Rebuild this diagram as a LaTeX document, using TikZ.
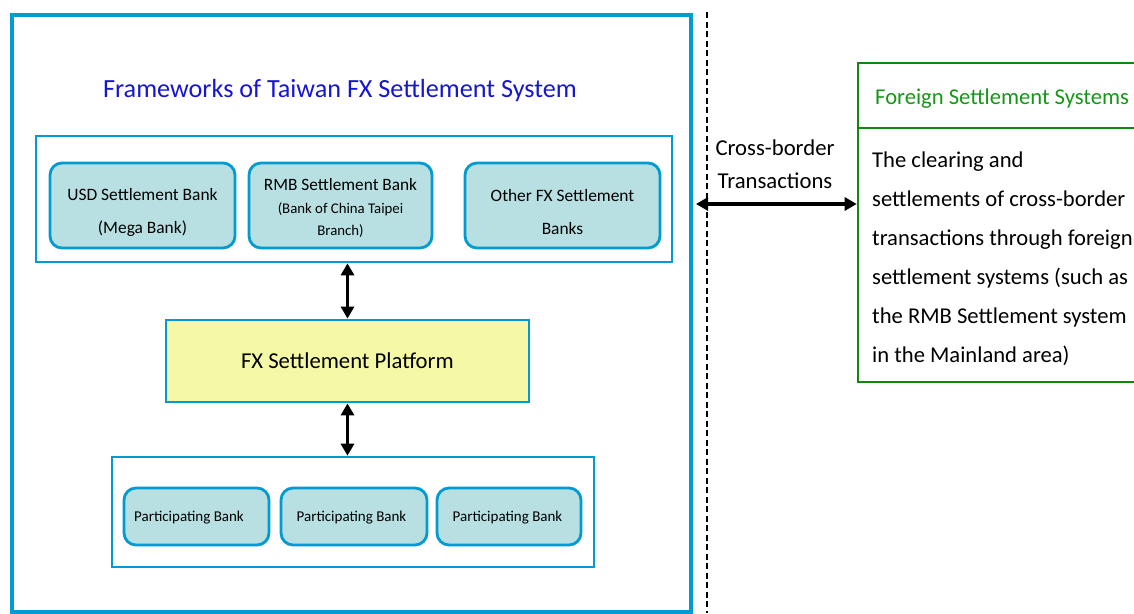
\documentclass[tikz,border=0pt]{standalone}
\usepackage{fontspec}
\setmainfont{Carlito}
\usetikzlibrary{arrows.meta}
\definecolor{fxblue}{RGB}{0,155,208}
\definecolor{titleblue}{RGB}{22,22,210}
\definecolor{bankfill}{RGB}{184,224,226}
\definecolor{platfill}{RGB}{245,249,166}
\definecolor{fssgreen}{RGB}{16,135,16}
\definecolor{fsstext}{RGB}{22,150,22}
\newcommand{\fs}[2]{\fontsize{#1}{#2}\selectfont}
\tikzset{
  frame/.style={draw=fxblue, line width=3.2pt, rectangle, inner sep=0pt},
  groupbox/.style={draw=fxblue, line width=2.6pt, rectangle, inner sep=0pt, fill=white},
  bankbox/.style={draw=fxblue, line width=2.8pt, rectangle, rounded corners=12pt, fill=bankfill, inner sep=0pt, align=center},
  banktext/.style={inner sep=0pt, align=center},
  platbox/.style={draw=fxblue, line width=2.8pt, rectangle, fill=platfill, inner sep=0pt, align=center},
  dbl/.style={line width=3.3pt, {Triangle[width=13pt,length=12pt]}-{Triangle[width=13pt,length=12pt]}},
}
\begin{document}
\begin{tikzpicture}[x=1pt,y=-1pt]
\useasboundingbox (0,0) rectangle (1134,613);
\clip (0,0) rectangle (1134,613);
% outer frame
\node[frame, minimum width=679pt, minimum height=597pt] (outer) at (351.5,313.5) {};
\node[text=titleblue, font=\fs{26.2}{30}] (title) at (340,90.5) {Frameworks of Taiwan FX Settlement System};
% top group
\node[groupbox, minimum width=636pt, minimum height=126pt] (top) at (354,199) {};
\node[bankbox, minimum width=185pt, minimum height=85pt] (usd) at (142.5,205.5) {};
\node[banktext, font=\fs{17.4}{33}] (usdt) at (142.5,212) {USD Settlement Bank\\(Mega Bank)};
\node[bankbox, minimum width=183pt, minimum height=85pt] (rmb) at (340.5,205.5) {};
\node[banktext, font=\fs{14.8}{21.5}] (rmbt) at (340.5,208) {{\fs{17.3}{22}RMB Settlement Bank}\\[1.5pt](Bank of China Taipei\\Branch)};
\node[bankbox, minimum width=195pt, minimum height=85pt] (other) at (562.5,205.5) {};
\node[banktext, font=\fs{17.4}{33}] (othert) at (562.5,212) {Other FX Settlement\\Banks};
% platform
\node[platbox, minimum width=363pt, minimum height=82pt, font=\fs{22.7}{27}] (plat) at (347.5,361) {FX Settlement Platform};
% bottom group
\node[groupbox, minimum width=482pt, minimum height=110pt] (bot) at (353,512) {};
\node[bankbox, minimum width=145pt, minimum height=57pt] (pb1) at (196.5,516.5) {};
\node[banktext, font=\fs{15}{18}] (pb1t) at (189,518) {Participating Bank};
\node[bankbox, minimum width=146pt, minimum height=57pt] (pb2) at (354,516.5) {};
\node[banktext, font=\fs{15}{18}] (pb2t) at (351.5,518) {Participating Bank};
\node[bankbox, minimum width=144pt, minimum height=57pt] (pb3) at (509,516.5) {};
\node[banktext, font=\fs{15}{18}] (pb3t) at (507.5,518) {Participating Bank};
% vertical arrows
\draw[dbl] (plat.north |- top.south) -- (plat.north);
\draw[dbl] (plat.south) -- (plat.south |- bot.north);
% dashed separator
\coordinate (dtop) at (707,12);
\coordinate (dbot) at (707,613);
\draw[line width=1.6pt, dash pattern=on 6pt off 3.5pt] (dtop) -- (dbot);
% foreign settlement systems
\node[draw=fssgreen, line width=2.6pt, rectangle, inner sep=0pt, minimum width=302pt, minimum height=319pt] (fss) at (1009,222.5) {};
\coordinate (divy) at (0,128);
\draw[draw=fssgreen, line width=2.6pt] (fss.west |- divy) -- (fss.east |- divy);
\node[text=fsstext, font=\fs{22.6}{27}, anchor=west, inner sep=0pt] (fsstitle) at (875,99) {Foreign Settlement Systems};
\node[font=\fs{22.6}{39}, anchor=north west, align=left, inner sep=0pt] (fssbody) at (872,152) {The clearing and\\settlements of cross-border\\transactions through foreign\\settlement systems (such as\\the RMB Settlement system\\in the Mainland area)};
% cross-border
\coordinate (cbl) at (696,204);
\draw[dbl] (cbl) -- (fss.west |- cbl);
\node[font=\fs{22.7}{33}, align=center, inner sep=0pt] (cbtext) at (775,164.5) {Cross-border\\Transactions};
\end{tikzpicture}
\end{document}
